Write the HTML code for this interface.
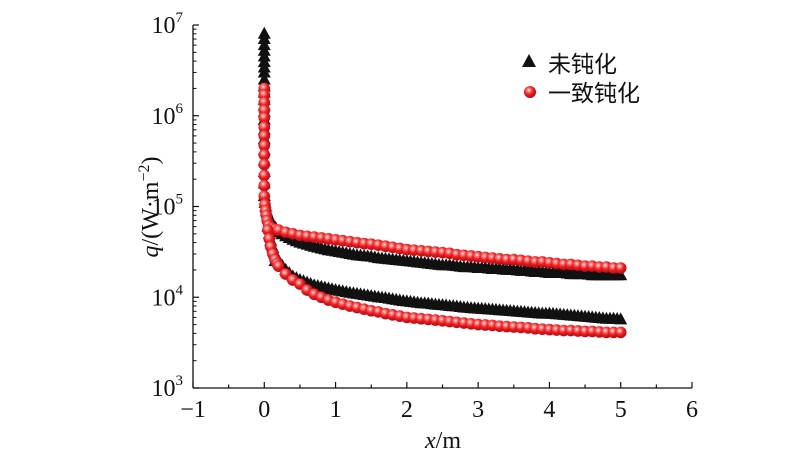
<!DOCTYPE html>
<html><head><meta charset="utf-8"><style>
html,body{margin:0;padding:0;background:#fff;}
svg text{font-family:"Liberation Serif","Noto Serif CJK SC",serif;fill:#111;}
</style></head><body>
<svg id="chart" width="800" height="463" viewBox="0 0 800 463" xmlns="http://www.w3.org/2000/svg">
<defs>
<radialGradient id="ball" cx="0.4" cy="0.35" r="0.7">
<stop offset="0" stop-color="#ffffff"/><stop offset="0.18" stop-color="#ff8a8a"/><stop offset="0.5" stop-color="#ee2020"/><stop offset="1" stop-color="#b00010"/>
</radialGradient>
</defs>
<g id="axes"></g>
<g id="series-black"></g>
<g id="series-red"></g>
<g>
<polygon points="529,54 536,67 522,67" fill="#111"/>
<text x="548" y="72" font-size="23" style="font-family:'Noto Sans CJK SC',sans-serif">未钝化</text>
<circle cx="530" cy="92" r="6" fill="url(#ball)"/>
<text x="548" y="101" font-size="23" style="font-family:'Noto Sans CJK SC',sans-serif">一致钝化</text>
</g>
<text x="443" y="448" font-size="24" text-anchor="middle"><tspan font-style="italic">x</tspan>/m</text>
<text transform="translate(158,207) rotate(-90)" font-size="24" text-anchor="middle"><tspan font-style="italic">q</tspan>/(W·m<tspan dy="-9" font-size="16">−2</tspan><tspan dy="9">)</tspan></text>
</svg>
<script>
// categories (x positions in m) for the tail of all series
const xTail = [0.2,0.3,0.4,0.5,0.6,0.7,0.8,0.9,1.0,1.1,1.2,1.3,1.4,1.5,1.6,1.7,1.8,1.9,2.0,2.1,2.2,2.3,2.4,2.5,2.6,2.7,2.8,2.9,3.0,3.1,3.2,3.3,3.4,3.5,3.6,3.7,3.8,3.9,4.0,4.1,4.2,4.3,4.4,4.5,4.6,4.7,4.8,4.9,5.0];
// head segment near x=0 (x, value in kW/m2)
const blackHeadX = [0,0,0,0,0,0,0,0,0,0,0,0,0,0,0,0,0,0,0,0,0,0,0.01,0.02,0.03,0.04,0.05,0.06,0.08];
const blackHeadV = [8000,7000,6000,5200,4500,3900,3400,3000,2500,2100,1800,1500,1300,1100,900,700,550,420,320,240,180,130,110,100,90,85,80,76,72];
const redHeadX = [0,0,0,0,0,0,0,0,0,0,0,0,0,0.01,0.02,0.03,0.04,0.06];
const redHeadV = [2000,1700,1400,1150,950,750,600,470,370,290,220,170,130,105,90,80,70,62];
const blackUpperHeadX=[0.1,0.13,0.16]; const blackUpperHeadV=[68,62,58];
const blackLowerHeadX=[0.05,0.07,0.09,0.12,0.15,0.18]; const blackLowerHeadV=[60,50,42,35,30,27];
const redUpperHeadX=[0.1,0.15]; const redUpperHeadV=[58,56];
const redLowerHeadX=[0.05,0.07,0.09,0.12,0.15,0.18]; const redLowerHeadV=[55,44,36,30,26,23.5];
// tail values, kW/m2
const blackUpper = [52,47,43,40,38,36,34.5,33,32,31,30,29,28.5,28,27,26.5,26,25.5,25,24.5,24,23.5,23,22.5,22.5,22,21.5,21.5,21,21,20.5,20.5,20,20,19.5,19.5,19,19,18.5,18.5,18.5,18,18,18,17.5,17.5,17.5,17.5,17.5];
const blackLower = [25,20,17,15.5,14.5,13.5,13,12.5,12,11.6,11.2,10.9,10.6,10.3,10,9.8,9.5,9.2,9,8.8,8.6,8.5,8.3,8.2,8,7.9,7.7,7.6,7.5,7.4,7.3,7.2,7.1,7,6.9,6.8,6.7,6.6,6.6,6.5,6.4,6.3,6.2,6.1,6,5.9,5.8,5.8,5.7];
const redUpper = [55,52,50,48,47,46,45,44,43,42,41,40,39,38.5,37.5,36.5,35.5,34.5,33.5,33,32.5,32,31.5,31,30.5,29.5,29,28.5,28,27.5,27,26.5,26,26,25.5,25,24.5,24.5,24,23.5,23,23,22.5,22,22,21.5,21.5,21,21];
const redLower = [22,18,15.5,14,12,10.8,10,9.3,8.8,8.4,8,7.7,7.4,7.1,6.9,6.6,6.4,6.2,6,5.9,5.8,5.7,5.6,5.5,5.4,5.3,5.2,5.1,5,4.95,4.9,4.8,4.75,4.7,4.65,4.6,4.5,4.45,4.4,4.35,4.3,4.3,4.25,4.2,4.2,4.15,4.1,4.1,4.1];
const xTicks = [-1,0,1,2,3,4,5,6];
const yTickExp = [3,4,5,6,7];

const NS="http://www.w3.org/2000/svg";
const L=193,R=692,T=25,B=388;
const xs=v=>L+(v+1)/7*(R-L);
const ys=v=>B-(Math.log10(v)-3)/4*(B-T); // v in W/m2
function mk(tag,attrs,parent){const e=document.createElementNS(NS,tag);for(const k in attrs)e.setAttribute(k,attrs[k]);parent.appendChild(e);return e;}
const ax=document.getElementById('axes');
const xl=mk('line',{x1:L,y1:B,x2:R,y2:B,stroke:'#111','stroke-width':1.3},ax);


const yl=mk('line',{x1:L,y1:B,x2:L,y2:T,stroke:'#111','stroke-width':1.3},ax);


xTicks.forEach((t,i)=>{
  const x=xs(t);
  mk('line',{x1:x,y1:B,x2:x,y2:B-6,stroke:'#111','stroke-width':1.2},ax);
  if(i<xTicks.length-1){const xm=xs(t+0.5);mk('line',{x1:xm,y1:B,x2:xm,y2:B-3.5,stroke:'#111','stroke-width':1.2},ax);}
  const tx=mk('text',{x:x,y:B+29,'font-size':24,'text-anchor':'middle'},ax);
  
  
  tx.textContent=t<0?'\u2212'+(-t):String(t);
});
yTickExp.forEach((e,i)=>{
  const y=ys(Math.pow(10,e));
  mk('line',{x1:L,y1:y,x2:L+6,y2:y,stroke:'#111','stroke-width':1.2},ax);
  if(i<yTickExp.length-1){for(let m=2;m<10;m++){const ym=ys(m*Math.pow(10,e));mk('line',{x1:L,y1:ym,x2:L+3.5,y2:ym,stroke:'#111','stroke-width':1},ax);}}
  const tx=mk('text',{x:L-10,y:y+8,'font-size':24,'text-anchor':'end'},ax);
  
  
  tx.innerHTML='10<tspan dy="-11" font-size="15">'+e+'</tspan>';
});
const gb=document.getElementById('series-black');
function tri(xv,vv){
  const x=xs(xv),y=ys(vv*1000);
  const p=mk('polygon',{points:`${x},${y-7} ${x+6.5},${y+5} ${x-6.5},${y+5}`,fill:'#111'},gb);
  
  
}
blackHeadX.forEach((x,i)=>tri(x,blackHeadV[i]));
blackUpperHeadX.forEach((x,i)=>tri(x,blackUpperHeadV[i]));
blackLowerHeadX.forEach((x,i)=>tri(x,blackLowerHeadV[i]));
xTail.forEach((x,i)=>{tri(x,blackUpper[i]);tri(x-0.05,i>0?Math.sqrt(blackUpper[i]*blackUpper[i-1]):blackUpper[i]);});
xTail.forEach((x,i)=>{tri(x,blackLower[i]);tri(x-0.05,i>0?Math.sqrt(blackLower[i]*blackLower[i-1]):blackLower[i]);});
const gr=document.getElementById('series-red');
function ball(xv,vv){
  const c=mk('circle',{cx:xs(xv),cy:ys(vv*1000),r:5.8,fill:'url(#ball)'},gr);
  
  
}
redHeadX.forEach((x,i)=>ball(x,redHeadV[i]));
redUpperHeadX.forEach((x,i)=>ball(x,redUpperHeadV[i]));
redLowerHeadX.forEach((x,i)=>ball(x,redLowerHeadV[i]));
xTail.forEach((x,i)=>ball(x,redUpper[i]));
xTail.forEach((x,i)=>ball(x,redLower[i]));
</script>
</body></html>
